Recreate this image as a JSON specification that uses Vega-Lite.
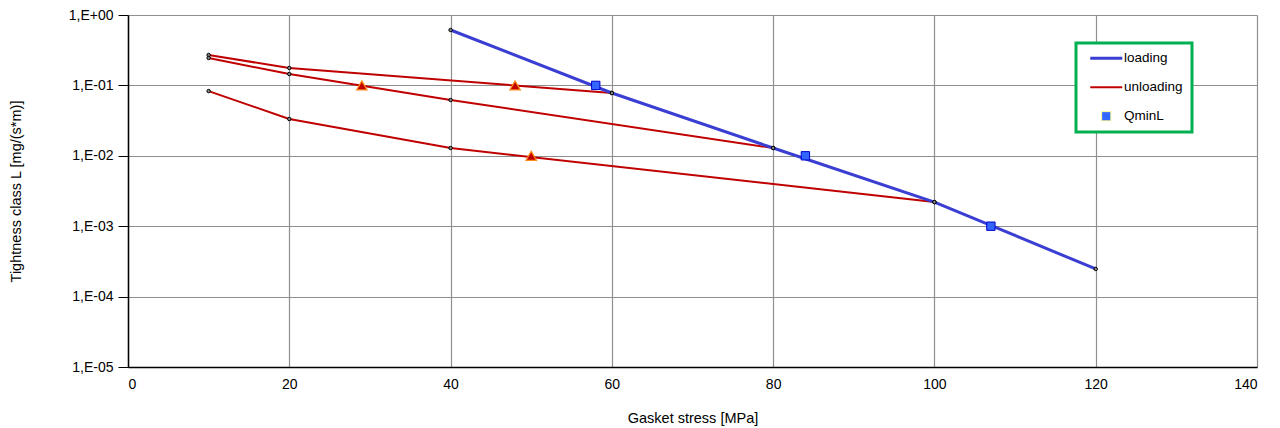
{
  "$schema": "https://vega.github.io/schema/vega-lite/v6.json",
  "width": 1129,
  "height": 352,
  "autosize": {"type": "none"},
  "padding": {"left": 128, "top": 15, "right": 23, "bottom": 61},
  "background": "white",
  "config": {
    "font": "Liberation Sans",
    "view": {"stroke": null},
    "axis": {"gridColor": "#8f8f8f", "gridWidth": 1.2, "domainColor": "#000000", "domainWidth": 1.5, "labelFontSize": 14, "titleFontSize": 14.5, "titleFontWeight": "normal", "labelColor": "#000", "titleColor": "#000"}
  },
  "datasets": {
    "lines": [
      {"series": "loading", "group": "L", "x": 40, "y": 0.612},
      {"series": "loading", "group": "L", "x": 60, "y": 0.078},
      {"series": "loading", "group": "L", "x": 80, "y": 0.0129},
      {"series": "loading", "group": "L", "x": 100, "y": 0.0022},
      {"series": "loading", "group": "L", "x": 120, "y": 0.000247},
      {"series": "unloading", "group": "U1", "x": 60, "y": 0.078},
      {"series": "unloading", "group": "U1", "x": 20, "y": 0.177},
      {"series": "unloading", "group": "U1", "x": 10, "y": 0.27},
      {"series": "unloading", "group": "U2", "x": 80, "y": 0.0129},
      {"series": "unloading", "group": "U2", "x": 40, "y": 0.062},
      {"series": "unloading", "group": "U2", "x": 20, "y": 0.145},
      {"series": "unloading", "group": "U2", "x": 10, "y": 0.245},
      {"series": "unloading", "group": "U3", "x": 100, "y": 0.0022},
      {"series": "unloading", "group": "U3", "x": 40, "y": 0.0129},
      {"series": "unloading", "group": "U3", "x": 20, "y": 0.0333},
      {"series": "unloading", "group": "U3", "x": 10, "y": 0.083}
    ],
    "tri": [
      {"x": 29, "y": 0.1},
      {"x": 48, "y": 0.1},
      {"x": 50, "y": 0.01}
    ],
    "qmin": [
      {"series": "QminL", "x": 58, "y": 0.1},
      {"series": "QminL", "x": 84, "y": 0.01},
      {"series": "QminL", "x": 107, "y": 0.001}
    ]
  },
  "layer": [
    {
      "data": {"name": "lines"},
      "transform": [{"filter": "datum.series === 'unloading'"}],
      "mark": {"type": "line", "clip": true, "strokeWidth": 2},
      "encoding": {
        "x": {"field": "x", "type": "quantitative", "scale": {"domain": [0, 140], "nice": false}, "axis": {"values": [0, 20, 40, 60, 80, 100, 120, 140], "title": "Gasket stress [MPa]", "ticks": false, "labelPadding": 10, "titlePadding": 20}},
        "y": {"field": "y", "type": "quantitative", "scale": {"type": "log", "domain": [0.00001, 1], "nice": false}, "axis": {"values": [1, 0.1, 0.01, 0.001, 0.0001, 0.00001], "labelExpr": "datum.value >= 1 ? '1,E+00' : '1,E-0' + round(-log(datum.value)/LN10)", "title": "Tightness class L [mg/(s*m)]", "tickSize": 10, "tickColor": "#000", "labelPadding": 5, "titlePadding": 45}},
        "detail": {"field": "group"},
        "color": {"field": "series", "type": "nominal", "scale": {"domain": ["loading", "unloading", "QminL"], "range": ["#3a3ed2", "#c00000", "#ffff99"]},
          "legend": {"title": null, "orient": "none", "legendX": 948, "legendY": 28, "strokeColor": "#00b050", "fillColor": "white", "padding": 8.5, "labelFontSize": 13.5, "labelColor": "#000", "labelOffset": 11, "symbolOffset": 15, "symbolType": "M-4,0L4,0", "symbolSize": 64, "symbolStrokeWidth": 3, "rowPadding": 14,
            "encode": {
              "legend": {"update": {"strokeWidth": {"value": 3}}},
              "symbols": {"update": {
                "shape": {"signal": "datum.value === 'QminL' ? 'square' : 'M-4,0L4,0'"},
                "size": {"signal": "datum.value === 'QminL' ? 85 : 64"},
                "fill": {"signal": "datum.value === 'QminL' ? '#3366ff' : 'transparent'"},
                "stroke": {"signal": "datum.value === 'QminL' ? '#0000cc' : (datum.value === 'loading' ? '#3a3ed2' : '#c00000')"},
                "strokeWidth": {"signal": "datum.value === 'QminL' ? 1 : (datum.value === 'loading' ? 3 : 2)"}
              }}
            }}
        }
      }
    },
    {
      "data": {"name": "lines"},
      "transform": [{"filter": "datum.series === 'loading'"}],
      "mark": {"type": "line", "clip": true, "strokeWidth": 3},
      "encoding": {
        "x": {"field": "x", "type": "quantitative"},
        "y": {"field": "y", "type": "quantitative"},
        "color": {"field": "series", "type": "nominal"}
      }
    },
    {
      "data": {"name": "lines"},
      "mark": {"type": "point", "shape": "circle", "filled": false, "stroke": "#000", "strokeWidth": 1, "size": 12, "fill": "#888", "fillOpacity": 1},
      "encoding": {
        "x": {"field": "x", "type": "quantitative"},
        "y": {"field": "y", "type": "quantitative"}
      }
    },
    {
      "data": {"name": "tri"},
      "mark": {"type": "point", "shape": "triangle-up", "filled": true, "fill": "#c00000", "stroke": "#ff8c1a", "strokeWidth": 1.2, "size": 110, "opacity": 1},
      "encoding": {
        "x": {"field": "x", "type": "quantitative"},
        "y": {"field": "y", "type": "quantitative"}
      }
    },
    {
      "data": {"name": "qmin"},
      "mark": {"type": "point", "shape": "square", "filled": true, "fill": "#3366ff", "stroke": "#0000cc", "strokeWidth": 1, "size": 70, "opacity": 1},
      "encoding": {
        "x": {"field": "x", "type": "quantitative"},
        "y": {"field": "y", "type": "quantitative"}
      }
    }
  ]
}
